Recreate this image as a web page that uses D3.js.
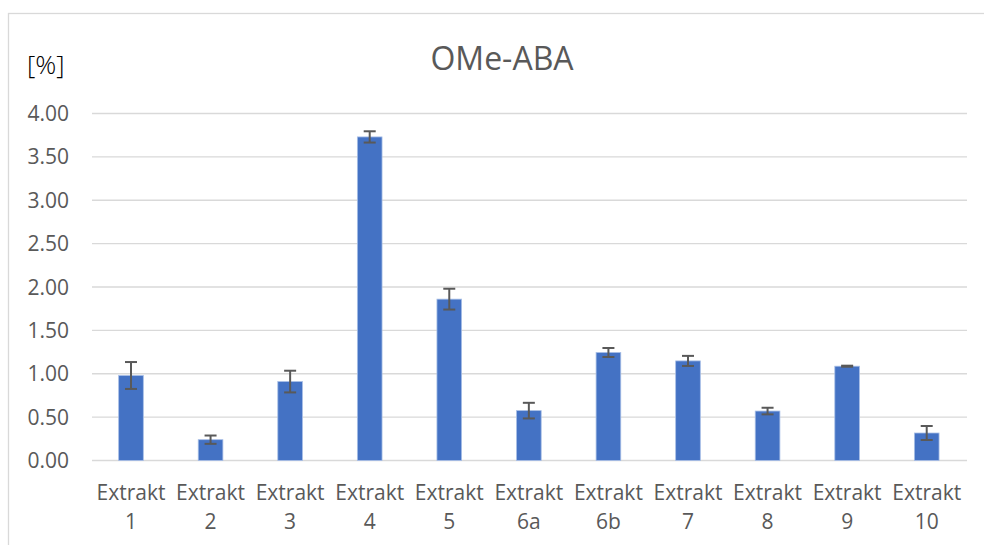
<!DOCTYPE html>
<html>
<head>
<meta charset="utf-8">
<script src="https://cdn.jsdelivr.net/npm/d3@7"></script>
<style>
  html, body { margin: 0; padding: 0; background: #ffffff; }
  svg { display: block; font-family: "Open Sans", "DejaVu Sans", sans-serif; }
</style>
</head>
<body>
<svg id="chart" width="984" height="545"></svg>
<script>
// OMe-ABA content per extract, mean and standard deviation in percent
const categories = ["Extrakt 1", "Extrakt 2", "Extrakt 3", "Extrakt 4", "Extrakt 5",
                    "Extrakt 6a", "Extrakt 6b", "Extrakt 7", "Extrakt 8", "Extrakt 9", "Extrakt 10"];
const values = [0.98, 0.24, 0.91, 3.73, 1.86, 0.575, 1.245, 1.148, 0.57, 1.087, 0.317];
const errors = [0.155, 0.048, 0.125, 0.065, 0.12, 0.09, 0.052, 0.058, 0.038, 0.006, 0.081];
const yTicks = [0, 0.5, 1, 1.5, 2, 2.5, 3, 3.5, 4];
const title = "OMe-ABA";
const unitLabel = "[%]";

const svg = d3.select("#chart");

// chart frame
svg.append("rect")
  .attr("x", 8.5).attr("y", 13.5)
  .attr("width", 990).attr("height", 560)
  .attr("fill", "#ffffff")
  .attr("stroke", "#d9d9d9").attr("stroke-width", 1.3);

const x = d3.scaleBand()
  .domain(categories)
  .range([91.2, 966.5])
  .paddingInner(0.69)
  .paddingOuter(0.345);

const y = d3.scaleLinear()
  .domain([0, 4])
  .range([460.5, 113.5]);

// horizontal gridlines
svg.append("g")
  .selectAll("line")
  .data(yTicks)
  .join("line")
  .attr("x1", 92).attr("x2", 967)
  .attr("y1", d => y(d)).attr("y2", d => y(d))
  .attr("stroke", "#d9d9d9").attr("stroke-width", 1.4);

// y tick labels
svg.append("g")
  .selectAll("text")
  .data(yTicks)
  .join("text")
  .attr("x", 69)
  .attr("y", d => y(d))
  .attr("dy", "0.36em")
  .attr("text-anchor", "end")
  .attr("font-size", 21)
  .attr("fill", "#595959")
  .text(d => d3.format(".2f")(d));

// bars
svg.append("g")
  .selectAll("rect")
  .data(categories)
  .join("rect")
  .attr("x", d => x(d))
  .attr("width", x.bandwidth())
  .attr("y", (d, i) => y(values[i]))
  .attr("height", (d, i) => y(0) - y(values[i]))
  .attr("fill", "#4472c4")
  .attr("stroke", "#a8bfe6")
  .attr("stroke-width", 0.8);

// error bars
const cap = 6;
const eb = svg.append("g")
  .attr("stroke", "#595959")
  .attr("stroke-width", 2)
  .selectAll("g")
  .data(categories)
  .join("g")
  .attr("transform", d => `translate(${x(d) + x.bandwidth() / 2},0)`);
eb.append("line")
  .attr("y1", (d, i) => y(values[i] + errors[i]))
  .attr("y2", (d, i) => y(values[i] - errors[i]));
eb.append("line")
  .attr("x1", -cap).attr("x2", cap)
  .attr("y1", (d, i) => y(values[i] + errors[i]))
  .attr("y2", (d, i) => y(values[i] + errors[i]));
eb.append("line")
  .attr("x1", -cap).attr("x2", cap)
  .attr("y1", (d, i) => y(values[i] - errors[i]))
  .attr("y2", (d, i) => y(values[i] - errors[i]));

// category labels on two lines
const xl = svg.append("g")
  .selectAll("text")
  .data(categories)
  .join("text")
  .attr("x", d => x(d) + x.bandwidth() / 2)
  .attr("text-anchor", "middle")
  .attr("font-size", 21)
  .attr("fill", "#595959");
xl.each(function (d) {
  const parts = d.split(" ");
  const t = d3.select(this);
  t.append("tspan").attr("x", x(d) + x.bandwidth() / 2).attr("y", 500).text(parts[0]);
  t.append("tspan").attr("x", x(d) + x.bandwidth() / 2).attr("y", 529).text(parts[1]);
});

// title
svg.append("text")
  .attr("x", 502).attr("y", 69.5)
  .attr("text-anchor", "middle")
  .attr("font-size", 32)
  .attr("fill", "#595959")
  .text(title);

// unit label
svg.append("text")
  .attr("x", 27).attr("y", 74)
  .attr("font-size", 26)
  .attr("font-weight", 300)
  .attr("fill", "#000000")
  .text(unitLabel);
</script>
</body>
</html>
